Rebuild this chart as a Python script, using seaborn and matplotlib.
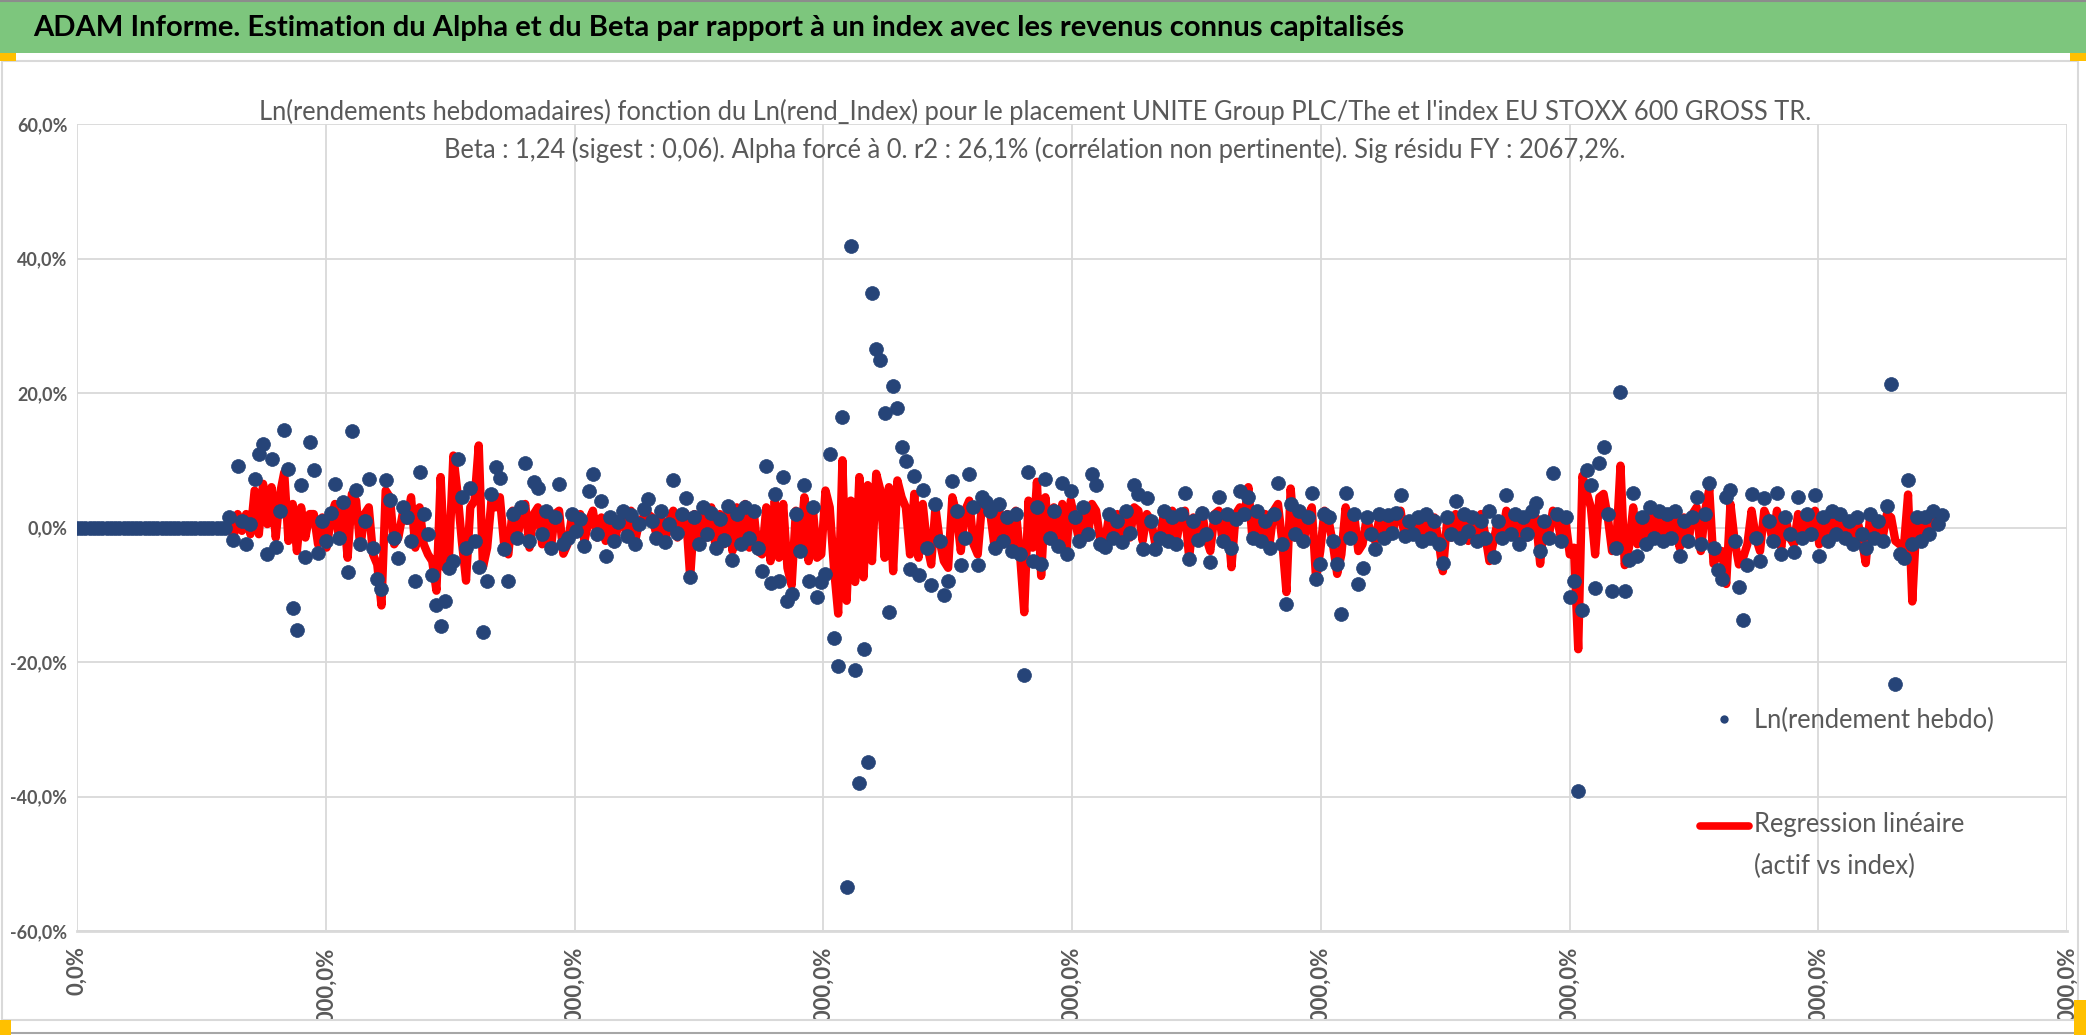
import numpy as np
import pandas as pd
import matplotlib
matplotlib.use("Agg")
import matplotlib.pyplot as plt
from matplotlib.patches import Rectangle
from matplotlib.lines import Line2D
from matplotlib.legend_handler import HandlerLine2D
import seaborn as sns

# textes
titre = "ADAM Informe. Estimation du Alpha et du Beta par rapport à un index avec les revenus connus capitalisés"
sous_titre_1 = ("Ln(rendements hebdomadaires) fonction du Ln(rend_Index) pour le placement "
                "UNITE Group PLC/The et l'index EU STOXX 600 GROSS TR.")
sous_titre_2 = ("Beta : 1,24 (sigest : 0,06). Alpha forcé à 0. r2 : 26,1% "
                "(corrélation non pertinente). Sig résidu FY : 2067,2%.")
label_points = "Ln(rendement hebdo)"
label_regression = "Regression linéaire\n(actif vs index)"

# axe x : une semaine = pas_x, début d'historique sans cours (rendement nul)
pas_x = 0.17
semaines_sans_cours = 36

# Ln(rendement hebdo) en % (20 semaines par ligne)
rendements = [
    1.5, -1.8, 9.1, 1.0, -2.5, 0.5, 7.2, 11.0, 12.4, -4.0, 10.2, -2.9, 2.5, 14.5, 8.7, -11.9, -15.2, 6.3, -4.4, 12.7,
    8.6, -3.8, 1.0, -2.0, 2.2, 6.5, -1.5, 3.8, -6.6, 14.3, 5.6, -2.5, 1.0, 7.2, -3.0, -7.7, -9.1, 7.0, 4.1, -1.5,
    -4.5, 3.0, 1.5, -2.0, -8.0, 8.3, 2.0, -1.0, -7.1, -11.5, -14.6, -10.9, -6.0, -5.0, 10.2, 4.5, -3.0, 5.9, -2.0, -5.9,
    -15.6, -8.0, 5.0, 9.0, 7.4, -3.2, -8.0, 2.0, -1.5, 3.0, 9.6, -2.0, 6.8, 5.8, -1.0, 2.5, -3.0, 1.5, 6.4, -2.5,
    -1.5, 2.0, -0.5, 1.2, -2.8, 5.4, 7.9, -1.0, 4.0, -4.2, 1.5, -2.0, 0.8, 2.5, -1.2, 1.8, -2.5, 0.5, 2.8, 4.3,
    1.0, -1.5, 2.5, -2.2, 0.5, 7.1, -0.8, 2.0, 4.4, -7.4, 1.5, -2.5, 3.0, -1.0, 2.2, -3.0, 1.2, -1.8, 3.2, -4.9,
    2.0, -2.5, 3.0, -1.5, 2.5, -3.0, -6.4, 9.1, -8.3, 5.0, -7.9, 7.5, -10.9, -9.9, 2.0, -3.5, 6.3, -7.9, 3.0, -10.3,
    -8.1, -6.9, 11.0, -16.4, -20.6, 16.5, -53.5, 41.8, -21.2, -38.0, -18.0, -34.8, 34.8, 26.5, 24.9, 17.0, -12.5, 21.0, 17.8, 11.9,
    9.9, -6.2, 7.6, -7.0, 5.6, -3.0, -8.6, 3.5, -2.0, -10.0, -7.9, 6.9, 2.5, -5.6, -1.5, 8.0, 3.0, -5.6, 4.6, 3.8,
    2.5, -3.0, 3.5, -2.0, 1.5, -3.5, 2.0, -4.0, -22.0, 8.2, -5.0, 3.0, -5.5, 7.2, -1.5, 2.5, -2.8, 6.6, -3.9, 5.5,
    1.5, -2.0, 3.0, -1.0, 7.9, 6.3, -2.5, -2.9, 2.0, -1.5, 1.0, -2.2, 2.5, -0.8, 6.3, 5.0, -3.2, 4.4, 1.0, -3.2,
    -1.5, 2.5, -2.0, 1.5, -2.5, 2.0, 5.1, -4.7, 1.0, -1.8, 2.2, -1.0, -5.2, 1.5, 4.5, -2.0, 2.0, -3.0, 1.2, 5.4,
    2.0, 4.5, -1.5, 2.5, -2.0, 1.0, -3.0, 2.0, 6.6, -2.5, -11.4, 3.5, -1.0, 2.5, -2.0, 1.5, 5.2, -7.6, -5.4, 2.0,
    1.5, -2.0, -5.4, -12.8, 5.2, -1.5, 2.0, -8.4, -6.0, 1.5, -1.0, -3.2, 2.0, -1.5, 1.8, -0.8, 2.2, 4.9, -1.2, 1.0,
    -1.0, 1.5, -2.0, 2.0, -1.5, 1.0, -2.5, -5.3, 1.5, -1.0, 4.0, -1.5, 2.0, -0.5, 1.5, -2.0, 1.0, -1.5, 2.5, -4.4,
    1.0, -1.5, 4.8, -1.0, 2.0, -2.5, 1.5, -1.0, 2.5, 3.7, -3.5, 1.0, -1.5, 8.1, 2.0, -2.0, 1.5, -10.3, -8.0, -39.2,
    -12.3, 8.5, 6.3, -9.0, 9.6, 11.9, 2.0, -9.5, -3.0, 20.2, -9.5, -4.9, 5.2, -4.2, 1.5, -2.5, 3.0, -1.5, 2.5, -2.0,
    2.0, -1.5, 2.5, -4.2, 1.0, -2.0, 1.5, 4.5, -2.5, 2.0, 6.6, -3.0, -6.3, -7.6, 4.5, 5.6, -2.0, -8.9, -13.8, -5.6,
    5.0, -1.5, -5.0, 4.4, 1.0, -2.0, 5.1, -3.9, 1.5, -1.0, -3.6, 4.6, -1.5, 2.0, -1.0, 4.8, -4.2, 1.5, -2.0, 2.5,
    -1.0, 2.0, -1.5, 1.0, -2.5, 1.5, -1.0, -3.0, 2.0, -1.5, 1.0, -2.0, 3.2, 21.4, -23.2, -3.9, -4.6, 7.1, -2.5, 1.5,
    -2.0, 1.5, -1.0, 2.5, 0.5, 1.8,
]

# regression (beta x rendement index) en %, mêmes semaines
regression = [
    0.8, -1.5, 2.0, -0.5, 2.0, -1.0, 5.5, -1.0, 6.5, 0.5, 6.0, -1.5, 5.0, 8.2, -2.0, 3.5, -3.5, 3.0, -1.5, 2.0,
    2.0, -2.5, 1.5, -3.0, 1.0, 3.5, -2.0, 2.5, -4.5, 5.0, 4.0, -3.0, 2.0, 3.0, -4.0, -5.5, -11.6, 5.5, 4.5, -2.5,
    -1.5, 2.0, 1.0, 4.5, -3.0, 3.0, -2.5, -4.0, -5.0, -9.4, 7.5, -6.0, -4.0, 10.7, 5.0, -2.0, -7.9, 3.0, 4.0, 12.2,
    -5.9, -3.0, 4.0, 3.0, 4.5, -2.5, -4.0, 2.5, -2.0, 1.5, 3.5, -3.0, 2.0, 3.0, -2.5, 1.5, -3.5, 2.0, 2.5, -3.9,
    -2.5, 1.5, -1.0, 2.0, -2.0, 1.0, 2.5, -1.5, 1.5, -2.0, 1.0, -2.5, 0.5, 2.0, -1.5, 2.5, -2.0, 1.0, 1.5, 2.0,
    1.5, -1.0, 2.0, -2.5, 1.0, 2.5, -1.5, 1.5, 2.0, -7.4, 2.0, -2.0, 2.5, -1.5, 3.0, -3.0, 2.0, -2.5, 3.5, -3.5,
    3.0, -2.0, 3.5, -3.0, 2.5, -3.5, -4.0, 3.0, -5.0, 4.0, -4.5, 3.5, -6.0, -8.6, 2.5, -3.0, 4.5, -5.0, 3.0, -4.5,
    -4.0, 5.5, 3.0, -6.0, -12.8, 10.0, -10.9, 4.0, -8.1, 7.5, -7.4, 6.3, -5.0, 8.0, 5.5, -4.5, 6.0, -6.5, 7.0, 4.5,
    3.0, -4.0, 5.0, -4.5, 3.5, -2.5, -5.5, 3.0, -2.0, -5.0, -6.0, 4.5, 2.0, -3.5, 2.5, 4.0, -2.5, -4.0, 3.5, 2.5,
    2.0, -3.0, 3.0, -2.5, 2.0, -3.5, 2.5, -4.0, -12.6, 4.0, -3.0, 6.8, -7.2, 4.5, -2.0, 3.0, -2.5, 3.5, -3.0, 4.0,
    1.0, -2.0, 2.5, -1.5, 3.5, 2.5, -2.0, -2.5, 1.5, -1.0, 2.0, -2.5, 1.5, -1.5, 3.0, 2.5, -2.0, 2.0, 1.0, -2.5,
    -2.0, 2.0, -1.5, 2.5, -2.0, 1.5, 2.5, -4.5, 1.5, -2.0, 2.5, -1.5, -3.5, 2.0, 2.5, -2.5, 1.5, -5.9, 2.0, 3.0,
    1.5, 6.0, -2.0, 2.5, -1.5, 2.0, -2.5, 2.5, 3.5, -2.0, -9.6, 5.8, -1.5, 2.0, -2.5, 1.5, 3.0, -7.6, -3.5, 2.5,
    1.0, -2.5, -6.9, -4.0, 3.0, -1.5, 2.0, -3.5, -2.5, 1.5, -1.0, -2.0, 1.5, -1.5, 2.0, -1.0, 1.5, 2.5, -1.5, 1.0,
    -1.0, 1.5, -1.5, 2.0, -1.0, 1.5, -2.0, -6.5, 1.0, -1.5, 2.0, -1.0, 1.5, -2.0, 1.0, -1.5, 2.0, -1.0, -5.0, -2.0,
    1.0, -1.5, 2.5, -1.0, 1.5, -2.0, 1.0, -1.5, 2.0, 1.5, -5.4, 1.0, -1.5, 2.5, 1.5, -2.0, 1.0, -4.0, -3.0, -18.1,
    7.7, 5.2, 3.0, -4.0, 4.5, 5.0, 1.5, -3.5, -2.5, 9.2, -5.6, -3.0, 3.0, -2.5, 1.5, -2.0, 2.5, -1.5, 2.0, -1.5,
    1.5, -2.0, 2.0, -3.0, 1.5, -2.5, 2.0, 3.0, -3.5, 2.5, 5.7, -5.4, -4.0, -3.5, -8.4, 3.5, -2.0, -5.5, -4.5, -2.5,
    2.5, -1.5, -3.5, 2.5, 1.0, -2.0, 2.5, -3.0, 1.5, -1.5, -2.5, 2.0, -1.0, 1.5, -1.5, 2.5, -2.5, 1.0, -1.5, 2.0,
    -1.0, 1.5, -1.0, 1.0, -2.0, 1.0, -1.5, -5.3, 1.5, -1.0, 1.0, -1.5, 2.0, 1.5, -2.0, -2.5, -3.0, 4.9, -11.0, 1.0,
    -1.0, 1.5, -1.0, 2.0, 0.5, 2.0,
]

x_ticks = [0, 10, 20, 30, 40, 50, 60, 70, 80]
y_ticks = [-60, -40, -20, 0, 20, 40, 60]

#tables
n0 = semaines_sans_cours
n = n0 + len(rendements)
x = np.arange(n) * pas_x
df_points = pd.DataFrame({"x": x, "y": [0.0] * n0 + rendements})
df_reg = pd.DataFrame({"x": x[n0:], "y": regression})

W, H = 2086, 1035
def fx(px):
    return px / W
def fy(py):
    return 1 - py / H


class HandlerHaut(HandlerLine2D):
    # poignee alignee sur la 1re ligne du libelle (comme Excel)
    def __init__(self, decal, **kw):
        super().__init__(**kw)
        self.decal = decal

    def create_artists(self, legend, orig_handle, xdescent, ydescent, width, height, fontsize, trans):
        arts = super().create_artists(legend, orig_handle, xdescent, ydescent, width, height, fontsize, trans)
        for a in arts:
            a.set_ydata(np.asarray(a.get_ydata()) + self.decal)
        return arts


sns.set_theme(style="white")
plt.rcParams["font.family"] = ["Lato", "DejaVu Sans"]

bleu = "#264478"
rouge = "#FF0000"

fig = plt.figure(figsize=(W / 100, H / 100), dpi=100)
fig.patch.set_facecolor("white")

ax = fig.add_axes([fx(77), fy(931), (2067 - 77) / W, (931 - 124) / H])

sns.lineplot(data=df_reg, x="x", y="y", ax=ax, color=rouge, linewidth=6,
             sort=False, estimator=None, legend=False, zorder=2)
# bord des points dans la meme couleur (sinon contour blanc par defaut de seaborn)
sns.scatterplot(data=df_points, x="x", y="y", ax=ax, color=bleu, edgecolor=bleu,
                s=100, linewidth=0.5, legend=False, zorder=3)

ax.set_xlim(0, 80)
ax.set_ylim(-60, 60)
ax.set_xticks(x_ticks)
ax.set_yticks(y_ticks)
ax.set_xticklabels([f"{v * 100:.1f}%".replace(".", ",") for v in x_ticks],
                   rotation=90, fontsize=16, fontweight="bold", color="#595959")
ax.set_yticklabels([f"{v:.1f}%".replace(".", ",") for v in y_ticks],
                   fontsize=13, fontweight="bold", color="#595959")
ax.tick_params(axis="x", length=0, pad=11)
ax.tick_params(axis="y", length=0, pad=7)
ax.set_xlabel("")
ax.set_ylabel("")
ax.grid(True, color="#D9D9D9", linewidth=1.3)
ax.set_axisbelow(True)
for side in ["top", "right", "left"]:
    ax.spines[side].set_visible(False)
ax.spines["bottom"].set_color("#D9D9D9")
ax.spines["bottom"].set_linewidth(2)

# legende
h_points = Line2D([], [], marker="o", color=bleu, linestyle="none",
                  markersize=6, markeredgewidth=0)
h_reg = Line2D([], [], color=rouge, linewidth=5.5, solid_capstyle="round")
leg = ax.legend([h_points, h_reg], [label_points, label_regression],
                loc="upper left", bbox_to_anchor=(fx(1700), fy(708)),
                bbox_transform=fig.transFigure, frameon=False, fontsize=18.4,
                labelcolor="#595959", handlelength=1.9, handletextpad=0.2,
                labelspacing=3.1, borderpad=0, borderaxespad=0,
                handler_map={h_reg: HandlerHaut(15)})
for t in leg.get_texts():
    t.set_linespacing(1.85)

# bandeau titre
fig.patches.append(Rectangle((0, fy(53)), 1, 53 / H, transform=fig.transFigure,
                             facecolor="#7DC67D", edgecolor="none", zorder=0))
fig.text(fx(33), fy(28), titre, fontsize=21, fontweight="bold", color="black",
         ha="left", va="center")
fig.text(fx(1035), fy(112), sous_titre_1, fontsize=18.4, color="#595959",
         ha="center", va="center")
fig.text(fx(1035), fy(150), sous_titre_2, fontsize=18.4, color="#595959",
         ha="center", va="center")

# cadre, bas coupe
fig.patches.append(Rectangle((0, 0), 1, 15 / H, transform=fig.transFigure,
                             facecolor="white", edgecolor="none", zorder=10))
fig.patches.append(Rectangle((fx(2), fy(1020)), 2076 / W, (1020 - 61) / H,
                             transform=fig.transFigure, fill=False,
                             edgecolor="#D9D9D9", linewidth=1.5, zorder=11))
fig.add_artist(Line2D([0, 1], [fy(1033), fy(1033)], color="#A6A6A6", linewidth=1.5, zorder=11))
fig.add_artist(Line2D([0, 1], [fy(1), fy(1)], color="#8C8C8C", linewidth=1.5, zorder=11))
for (x0, y0, w, h) in [(0, 53, 16, 8), (2070, 53, 16, 8), (0, 1020, 11, 15), (2074, 1000, 12, 35)]:
    fig.patches.append(Rectangle((fx(x0), fy(y0 + h)), w / W, h / H, transform=fig.transFigure,
                                 facecolor="#FFC000", edgecolor="none", zorder=12))

fig.savefig("out.png", dpi=100)
